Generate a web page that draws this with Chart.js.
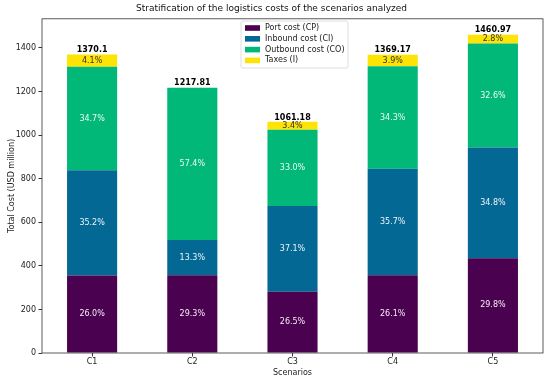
<!DOCTYPE html>
<html>
<head>
<meta charset="utf-8">
<script src="https://cdn.jsdelivr.net/npm/chart.js@4.4.1/dist/chart.umd.min.js"></script>
<style>
  body { margin: 0; background: #fff; }
  #wrap { width: 550px; height: 381px; }
</style>
</head>
<body>
<div id="wrap"><canvas id="costChart" width="550" height="381"></canvas></div>
<script>
// scenario data, USD million
const scenarios = ["C1", "C2", "C3", "C4", "C5"];
const portCost = [356.23, 356.82, 281.21, 357.35, 435.37];
const inboundCost = [482.28, 161.97, 393.70, 488.79, 508.42];
const outboundCost = [475.42, 699.02, 350.19, 469.63, 476.27];
const taxes = [56.17, 0, 36.08, 53.40, 40.91];
const yTicks = [0, 200, 400, 600, 800, 1000, 1200, 1400];

const FONT = "'DejaVu Sans', sans-serif";
const colors = ["#4a0150", "#046894", "#02b878", "#fde404"];
const textColors = ["#f4eef4", "#eef4f8", "#eefaf4", "#333333"];

function totals() {
    return scenarios.map((_, i) =>
        Math.round((portCost[i] + inboundCost[i] + outboundCost[i] + taxes[i]) * 100) / 100);
}

// percentage inside each segment + total on top
const barLabels = {
    id: "barLabels",
    afterDatasetsDraw(chart) {
        const ctx = chart.ctx;
        const tot = totals();
        ctx.save();
        ctx.textAlign = "center";
        ctx.textBaseline = "middle";
        ctx.font = "8px " + FONT;
        chart.data.datasets.forEach((ds, d) => {
            const meta = chart.getDatasetMeta(d);
            meta.data.forEach((bar, i) => {
                const v = ds.data[i];
                if (!v) return;
                const pct = (v / tot[i] * 100).toFixed(1) + "%";
                ctx.fillStyle = textColors[d];
                ctx.fillText(pct, bar.x, (bar.y + bar.base) / 2);
            });
        });
        ctx.font = "bold 8px " + FONT;
        ctx.fillStyle = "#000";
        ctx.textBaseline = "bottom";
        const y = chart.scales.y;
        tot.forEach((t, i) => {
            const bar = chart.getDatasetMeta(0).data[i];
            ctx.fillText(String(t), bar.x, y.getPixelForValue(t) - 0.3);
        });
        ctx.restore();
    }
};

// frame around plot area + legend in upper centre
const frameAndLegend = {
    id: "frameAndLegend",
    afterDraw(chart) {
        const ctx = chart.ctx;
        const a = chart.chartArea;
        ctx.save();
        ctx.strokeStyle = "#333";
        ctx.lineWidth = 0.8;
        ctx.strokeRect(a.left, a.top, a.right - a.left, a.bottom - a.top);

        const bx = 241, by = 21, bw = 107, bh = 47;
        ctx.fillStyle = "rgba(255,255,255,0.85)";
        ctx.strokeStyle = "#d6d6d6";
        ctx.lineWidth = 0.8;
        ctx.beginPath();
        ctx.roundRect(bx, by, bw, bh, 2);
        ctx.fill();
        ctx.stroke();
        ctx.font = "8px " + FONT;
        ctx.textBaseline = "middle";
        ctx.textAlign = "left";
        chart.data.datasets.forEach((ds, d) => {
            const ry = by + 7 + d * 10.8;
            ctx.fillStyle = ds.backgroundColor;
            ctx.fillRect(bx + 4, ry - 2.8, 15, 5.6);
            ctx.fillStyle = "#222";
            ctx.fillText(ds.label, bx + 24, ry);
        });
        ctx.restore();
    }
};

const seriesNames = ["Port cost (CP)", "Inbound cost (CI)", "Outbound cost (CO)", "Taxes (I)"];
const seriesData = [portCost, inboundCost, outboundCost, taxes];

new Chart(document.getElementById("costChart"), {
    type: "bar",
    data: {
        labels: scenarios,
        datasets: seriesData.map((arr, d) => ({
            label: seriesNames[d],
            data: arr,
            backgroundColor: colors[d],
            borderWidth: 0,
            barPercentage: 0.5,
            categoryPercentage: 1
        }))
    },
    options: {
        responsive: false,
        animation: false,
        layout: { padding: { left: 0, right: 7, top: 0, bottom: 0 } },
        plugins: {
            legend: { display: false },
            tooltip: { enabled: false },
            title: {
                display: true,
                text: "Stratification of the logistics costs of the scenarios analyzed",
                color: "#111",
                font: { family: FONT, size: 9, weight: "normal" },
                padding: { top: 3, bottom: 5 }
            }
        },
        scales: {
            x: {
                stacked: true,
                grid: { display: true, drawOnChartArea: false, offset: false, tickLength: 3.5, color: "#333", tickColor: "#333" },
                border: { display: false },
                ticks: { color: "#222", font: { family: FONT, size: 8 }, padding: 1 },
                title: { display: true, text: "Scenarios", color: "#222", font: { family: FONT, size: 8 }, padding: 3.5 },
                afterFit(s) { s.height = 28; }
            },
            y: {
                stacked: true,
                min: 0,
                max: 1534,
                afterBuildTicks(s) { s.ticks = yTicks.map(v => ({ value: v })); },
                grid: { display: true, drawOnChartArea: false, tickLength: 3.5, color: "#333", tickColor: "#333" },
                border: { display: false },
                ticks: { color: "#222", font: { family: FONT, size: 8 }, padding: 2.5, callback: v => String(v) },
                title: { display: true, text: "Total Cost (USD million)", color: "#222", font: { family: FONT, size: 8 }, padding: 7 },
                afterFit(s) { s.width = 42; }
            }
        }
    },
    plugins: [barLabels, frameAndLegend]
});
</script>
</body>
</html>
